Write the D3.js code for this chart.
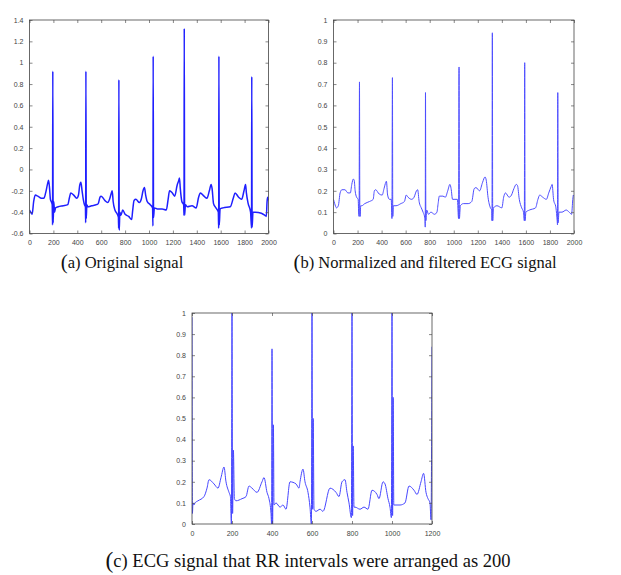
<!DOCTYPE html>
<html><head><meta charset="utf-8">
<script src="https://cdn.jsdelivr.net/npm/d3@7"></script>
<style>body{margin:0;background:#fff}svg{display:block}</style>
</head><body>
<svg id="c" width="621" height="575"></svg>
<script>
// ---------- data ----------
const xTicksA = [0,200,400,600,800,1000,1200,1400,1600,1800,2000];
const yTicksA = [-0.6,-0.4,-0.2,0,0.2,0.4,0.6,0.8,1,1.2,1.4];
const xTicksB = [0,200,400,600,800,1000,1200,1400,1600,1800,2000];
const yTicksB = [0,0.1,0.2,0.3,0.4,0.5,0.6,0.7,0.8,0.9,1];
const xTicksC = [0,200,400,600,800,1000,1200];
const yTicksC = [0,0.1,0.2,0.3,0.4,0.5,0.6,0.7,0.8,0.9,1];

const signalA = [[0,-0.38],[10,-0.40],[22,-0.42],[35,-0.30],[48,-0.24],[70,-0.25],[100,-0.27],[120,-0.27],[135,-0.22],[150,-0.14],[160,-0.10],[168,-0.18],[175,-0.28],[185,-0.31],[190,-0.33],[193,-0.52],[195,0.92],[198,-0.50],[203,-0.30],[210,-0.40],[218,-0.36],[240,-0.35],[280,-0.34],[320,-0.33],[335,-0.26],[345,-0.22],[370,-0.24],[395,-0.27],[410,-0.24],[420,-0.15],[430,-0.12],[440,-0.20],[450,-0.28],[460,-0.33],[468,-0.35],[470,-0.50],[472,0.92],[475,-0.46],[480,-0.33],[488,-0.35],[520,-0.34],[560,-0.33],[575,-0.32],[590,-0.26],[600,-0.25],[630,-0.29],[655,-0.31],[670,-0.28],[685,-0.22],[692,-0.20],[700,-0.30],[715,-0.38],[735,-0.42],[744,-0.45],[746,-0.55],[748,0.84],[751,-0.57],[756,-0.40],[765,-0.43],[780,-0.38],[800,-0.42],[830,-0.44],[855,-0.47],[862,-0.40],[875,-0.29],[890,-0.28],[920,-0.31],[935,-0.28],[950,-0.20],[962,-0.17],[972,-0.24],[985,-0.30],[1010,-0.33],[1030,-0.36],[1033,-0.53],[1035,1.06],[1038,-0.45],[1045,-0.36],[1070,-0.37],[1110,-0.37],[1145,-0.38],[1160,-0.28],[1172,-0.20],[1195,-0.22],[1215,-0.25],[1235,-0.15],[1250,-0.10],[1255,-0.08],[1262,-0.18],[1275,-0.30],[1290,-0.33],[1293,-0.43],[1295,1.32],[1298,-0.43],[1305,-0.33],[1320,-0.35],[1360,-0.34],[1395,-0.36],[1415,-0.26],[1430,-0.22],[1460,-0.25],[1485,-0.27],[1505,-0.20],[1520,-0.14],[1528,-0.18],[1540,-0.32],[1560,-0.36],[1580,-0.40],[1583,-0.55],[1585,1.06],[1588,-0.52],[1595,-0.37],[1620,-0.36],[1680,-0.35],[1705,-0.27],[1720,-0.22],[1750,-0.26],[1775,-0.28],[1795,-0.20],[1808,-0.14],[1815,-0.22],[1830,-0.32],[1850,-0.40],[1858,-0.55],[1860,0.87],[1863,-0.54],[1870,-0.40],[1890,-0.40],[1940,-0.41],[1970,-0.43],[1982,-0.44],[1988,-0.30],[1993,-0.26],[2000,-0.29]];

const signalB = [[0,0.16],[10,0.14],[25,0.12],[40,0.13],[55,0.19],[70,0.205],[95,0.205],[120,0.19],[140,0.19],[152,0.23],[165,0.255],[172,0.25],[180,0.20],[192,0.17],[205,0.16],[210,0.09],[213,0.08],[216,0.71],[219,0.10],[222,0.08],[226,0.13],[235,0.13],[260,0.14],[300,0.15],[330,0.16],[340,0.20],[350,0.205],[380,0.185],[405,0.18],[420,0.21],[435,0.24],[440,0.245],[450,0.18],[465,0.16],[480,0.16],[486,0.07],[490,0.73],[493,0.08],[498,0.13],[520,0.13],[560,0.14],[590,0.15],[605,0.18],[620,0.17],[650,0.16],[670,0.17],[690,0.20],[700,0.205],[712,0.15],[730,0.12],[745,0.10],[760,0.07],[763,0.03],[765,0.66],[768,0.06],[775,0.11],[790,0.09],[810,0.10],[840,0.09],[860,0.10],[870,0.14],[880,0.175],[910,0.175],[930,0.17],[950,0.20],[968,0.23],[978,0.21],[990,0.16],[1010,0.16],[1030,0.16],[1040,0.07],[1044,0.78],[1047,0.07],[1055,0.13],[1080,0.14],[1120,0.14],[1150,0.15],[1170,0.21],[1185,0.215],[1215,0.20],[1240,0.24],[1260,0.265],[1270,0.25],[1285,0.17],[1305,0.12],[1316,0.11],[1318,0.06],[1321,0.94],[1324,0.06],[1330,0.12],[1360,0.13],[1400,0.12],[1415,0.17],[1430,0.19],[1460,0.17],[1480,0.18],[1500,0.21],[1520,0.23],[1530,0.225],[1545,0.16],[1565,0.12],[1580,0.10],[1587,0.06],[1590,0.80],[1593,0.06],[1600,0.10],[1630,0.11],[1680,0.12],[1700,0.16],[1715,0.18],[1740,0.17],[1770,0.16],[1790,0.19],[1810,0.22],[1818,0.23],[1830,0.16],[1850,0.12],[1860,0.06],[1863,0.04],[1865,0.66],[1868,0.05],[1875,0.10],[1900,0.10],[1935,0.11],[1960,0.10],[1980,0.09],[1990,0.16],[1995,0.18],[2000,0.175]];

const signalC = [[0,0.98],[2,0.05],[5,0.10],[10,0.09],[15,0.10],[30,0.11],[60,0.13],[75,0.17],[85,0.21],[110,0.19],[130,0.17],[145,0.22],[160,0.27],[170,0.20],[185,0.15],[192,0.13],[197,0.0],[200,1.0],[203,0.05],[207,0.35],[212,0.12],[220,0.11],[250,0.12],[270,0.13],[285,0.18],[300,0.17],[325,0.15],[350,0.20],[360,0.22],[375,0.15],[385,0.12],[395,0.05],[398,0.0],[400,0.83],[403,0.0],[407,0.47],[410,0.09],[420,0.10],[440,0.08],[455,0.09],[470,0.07],[490,0.20],[520,0.19],[535,0.17],[540,0.20],[555,0.26],[565,0.20],[580,0.15],[590,0.08],[597,0.0],[600,1.0],[603,0.07],[606,0.50],[610,0.07],[620,0.06],[640,0.07],[655,0.06],[690,0.17],[720,0.15],[735,0.13],[750,0.20],[765,0.21],[775,0.15],[785,0.10],[797,0.03],[800,1.0],[803,0.04],[806,0.37],[810,0.08],[815,0.08],[840,0.07],[860,0.08],[880,0.07],[900,0.16],[925,0.14],[935,0.12],[955,0.20],[965,0.19],[980,0.12],[990,0.08],[997,0.03],[1000,1.0],[1003,0.04],[1006,0.60],[1009,0.09],[1015,0.09],[1040,0.09],[1065,0.10],[1085,0.18],[1110,0.16],[1125,0.14],[1145,0.20],[1158,0.24],[1170,0.15],[1180,0.12],[1190,0.10],[1195,0.02],[1200,0.84]];

const captionA = "(a) Original signal";
const captionB = "(b) Normalized and filtered ECG signal";
const captionC = "(c) ECG signal that RR intervals were arranged as 200";

// ---------- drawing ----------
const svg = d3.select("#c");

function panel(id, box, xDom, yDom, xTicks, yTicks, data, color, width, fmtY) {
  const [x0, y0, x1, y1] = box;
  const x = d3.scaleLinear().domain(xDom).range([x0, x1]);
  const y = d3.scaleLinear().domain(yDom).range([y1, y0]);
  const g = svg.append("g");
  g.append("clipPath").attr("id", "clip" + id)
    .append("rect").attr("x", x0).attr("y", y0).attr("width", x1 - x0).attr("height", y1 - y0);
  g.append("rect").attr("x", x0).attr("y", y0).attr("width", x1 - x0).attr("height", y1 - y0)
    .attr("fill", "#fff");
  g.append("path").datum(data)
    .attr("clip-path", "url(#clip" + id + ")")
    .attr("fill", "none").attr("stroke", color).attr("stroke-width", width)
    .attr("stroke-linejoin", "round")
    .attr("d", d3.line().curve(d3.curveMonotoneX).x(d => x(d[0])).y(d => y(d[1])));
  const tk = 3;
  const axStyle = sel => {
    sel.select(".domain").remove();
    sel.selectAll("line").attr("stroke", "#555").attr("stroke-width", 0.7);
    sel.selectAll("text").attr("fill", "#444").attr("font-family", "Liberation Sans, Arial, sans-serif").attr("font-size", 7);
  };
  g.append("g").attr("transform", `translate(0,${y1})`)
    .call(d3.axisBottom(x).tickValues(xTicks).tickSize(-tk).tickPadding(7).tickFormat(d3.format("d")))
    .call(axStyle);
  g.append("g").attr("transform", `translate(0,${y0})`)
    .call(d3.axisTop(x).tickValues(xTicks).tickSize(-tk).tickFormat(""))
    .call(axStyle);
  g.append("g").attr("transform", `translate(${x0},0)`)
    .call(d3.axisLeft(y).tickValues(yTicks).tickSize(-tk).tickPadding(6).tickFormat(fmtY))
    .call(axStyle);
  g.append("g").attr("transform", `translate(${x1},0)`)
    .call(d3.axisRight(y).tickValues(yTicks).tickSize(-tk).tickFormat(""))
    .call(axStyle);
  g.append("rect").attr("x", x0).attr("y", y0).attr("width", x1 - x0).attr("height", y1 - y0)
    .attr("fill", "none").attr("stroke", "#444").attr("stroke-width", 0.8);
}

const fmt = d => (Math.round(d * 10) / 10).toString();

panel("a", [29.5, 20, 268.5, 233.5], [0, 2000], [-0.6, 1.4], xTicksA, yTicksA, signalA, "#1f1fff", 1.5, fmt);
panel("b", [333.5, 20, 574, 233.5], [0, 2000], [0, 1], xTicksB, yTicksB, signalB, "#4d4dff", 1, fmt);
panel("c", [192, 313, 432, 524], [0, 1200], [0, 1], xTicksC, yTicksC, signalC, "#4646ff", 1, fmt);

function caption(txt, cx, by, fs) {
  const t = svg.append("text").attr("x", cx).attr("y", by).attr("text-anchor", "middle")
    .attr("font-family", "Liberation Serif, Times New Roman, serif").attr("font-size", fs).attr("fill", "#111");
  t.append("tspan").attr("font-size", fs * 1.27).attr("dy", 1).text(txt.slice(0, 1));
  t.append("tspan").attr("dy", -1).text(txt.slice(1));
}
caption(captionA, 122, 268, 16.5);
caption(captionB, 425, 268, 16.5);
caption(captionC, 308, 567, 18.5);
</script>
</body></html>
